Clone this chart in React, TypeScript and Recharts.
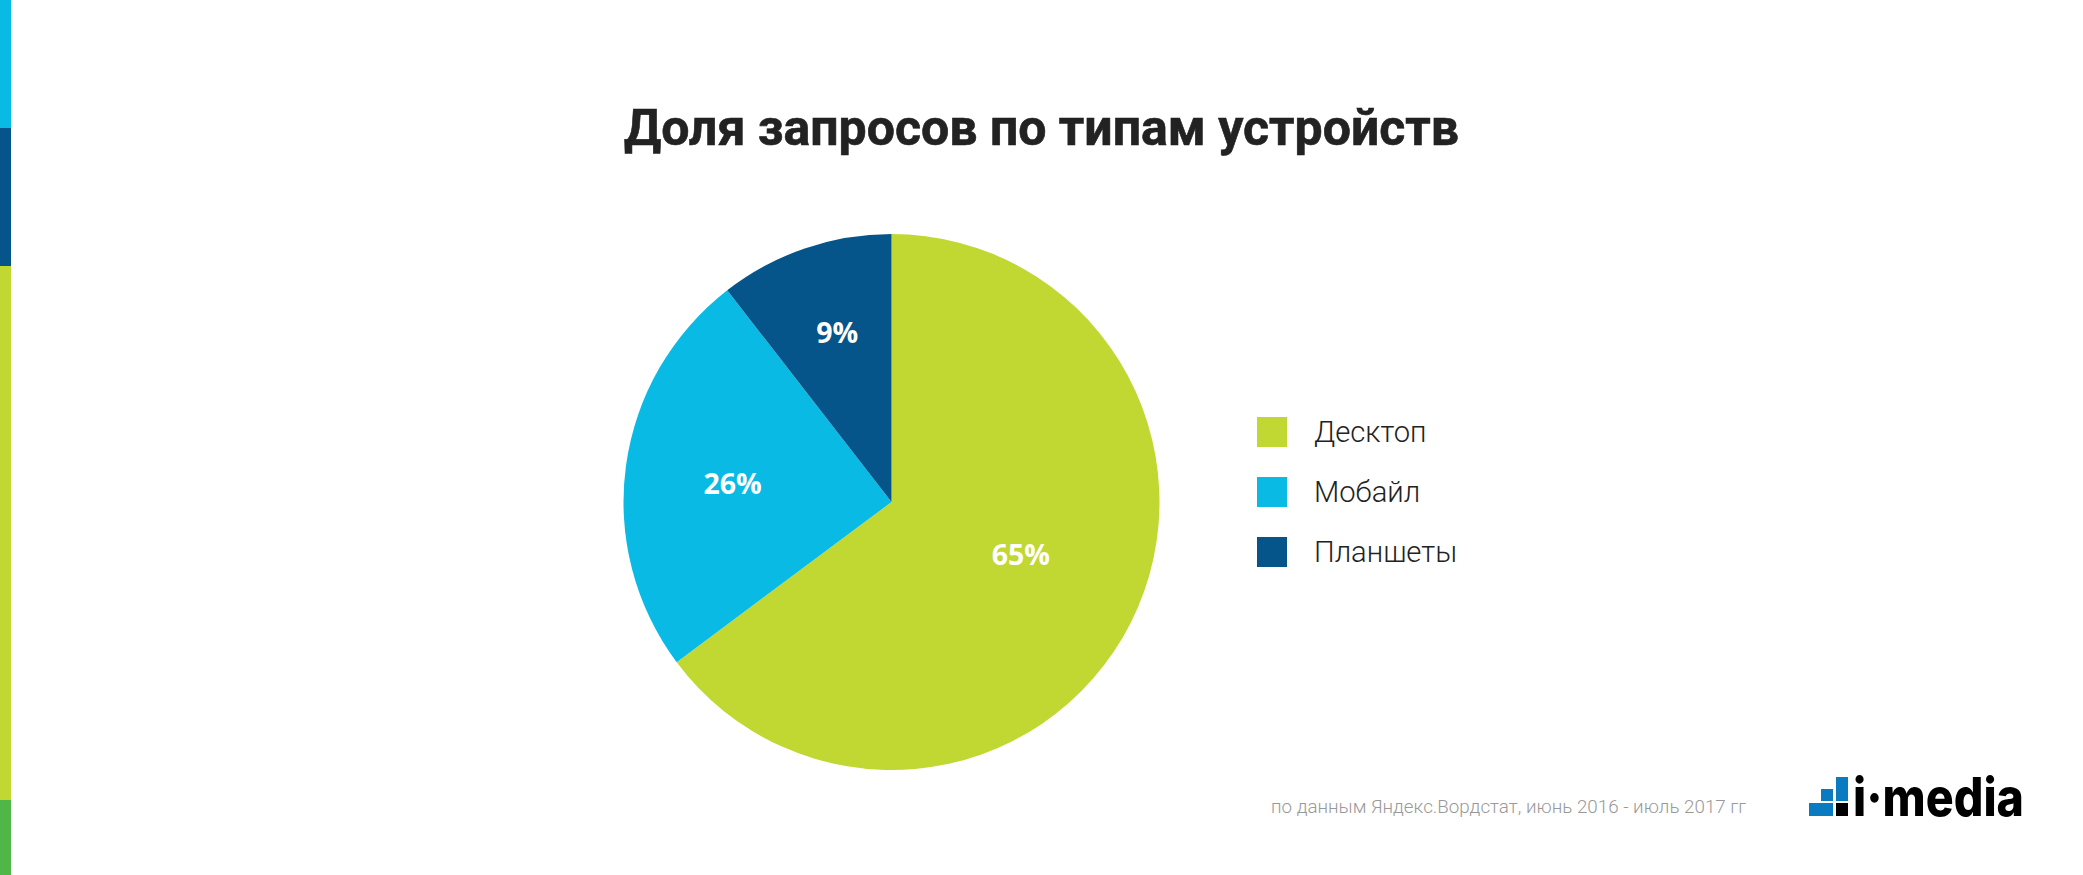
import React from "react";
import { PieChart, Pie, Cell, Legend } from "recharts";

const W = 2083;
const H = 875;
const title = "Доля запросов по типам устройств";
const source = "по данным Яндекс.Вордстат, июнь 2016 - июль 2017 гг";
const categories = ["Десктоп", "Мобайл", "Планшеты"];
const drawnShares = [64.8, 24.7, 10.5];
const labelTexts = ["65%", "26%", "9%"];
const colors = ["#C1D732", "#08BAE4", "#05548A"];
const labelRadius = [139.5, 160, 178.5];
const labelAngleShift = [4.6, 1, -1.2];

const rows = categories.map((name, i) => ({ name, value: drawnShares[i], text: labelTexts[i] }));

const stripes = [
  { top: 0, h: 128, c: "#08BAE4" },
  { top: 128, h: 138, c: "#05548A" },
  { top: 266, h: 534, c: "#C1D732" },
  { top: 800, h: 75, c: "#4FB748" },
];

const logoBlocks = [
  { x: 1809, y: 803, w: 24, h: 13, c: "#0A7BC1" },
  { x: 1821, y: 789, w: 12, h: 12, c: "#0A7BC1" },
  { x: 1836, y: 777, w: 12, h: 24, c: "#0A7BC1" },
  { x: 1836, y: 803, w: 12, h: 13, c: "#000" },
];

const RAD = Math.PI / 180;
const renderLabel = (p: any) => {
  const i = p.index;
  const a = (p.midAngle + labelAngleShift[i]) * RAD;
  const x = p.cx + labelRadius[i] * Math.cos(a);
  const y = p.cy - labelRadius[i] * Math.sin(a);
  return (
    <text x={x} y={y} fill="#fff" textAnchor="middle" dominantBaseline="central"
      style={{ fontFamily: "'Open Sans'", fontWeight: 700, fontSize: 28.5 }}>
      {labelTexts[i]}
    </text>
  );
};

const renderLegend = (props: any) => (
  <div style={{ position: "relative", width: 220, height: 150 }}>
    {(props.payload || []).map((e: any, i: number) => (
      <div key={e.value} style={{ position: "absolute", left: 0, top: i * 60 - (i === 2 ? 0.5 : 0), height: 30, display: "flex", alignItems: "center" }}>
        <span style={{ display: "block", width: 30, height: 30, background: e.color, marginRight: 27 }} />
        <span style={{ fontFamily: "Roboto", fontWeight: 300, fontSize: 29.2, color: "#222", lineHeight: "30px" }}>{e.value}</span>
      </div>
    ))}
  </div>
);

export default function App() {
  return (
    <div style={{ position: "absolute", left: 0, top: 0, width: W, height: H, background: "#fff", overflow: "hidden" }}>
      {stripes.map((s) => (
        <div key={s.top} style={{ position: "absolute", left: 0, top: s.top, width: 11, height: s.h, background: s.c }} />
      ))}
      <PieChart width={W} height={H} margin={{ top: 0, right: 0, bottom: 0, left: 0 }}>
        <text x={1041.5} y={145} textAnchor="middle" fill="#222" stroke="#222" strokeWidth={0.6}
          style={{ fontFamily: "Roboto", fontWeight: 700, fontSize: 50 }}>{title}</text>
        <Pie data={rows} dataKey="value" nameKey="name" cx={891.5} cy={502} outerRadius={268}
          startAngle={90} endAngle={-270} stroke="none" isAnimationActive={false}
          label={renderLabel} labelLine={false}>
          {rows.map((r, i) => <Cell key={r.name} fill={colors[i]} />)}
        </Pie>
        <Legend content={renderLegend} wrapperStyle={{ position: "absolute", left: 1257, top: 417, width: 220, height: 150 }} />
        <text x={1271} y={813} fill="#999" style={{ fontFamily: "Roboto", fontWeight: 300, fontSize: 18.8 }}>{source}</text>
        {logoBlocks.map((b) => <rect key={b.x + "-" + b.y} x={b.x} y={b.y} width={b.w} height={b.h} fill={b.c} />)}
        <text x={1853} y={816} fill="#000" textLength={171} lengthAdjust="spacingAndGlyphs"
          style={{ fontFamily: "Inter", fontWeight: 800, fontSize: 53 }}>i·media</text>
      </PieChart>
    </div>
  );
}
